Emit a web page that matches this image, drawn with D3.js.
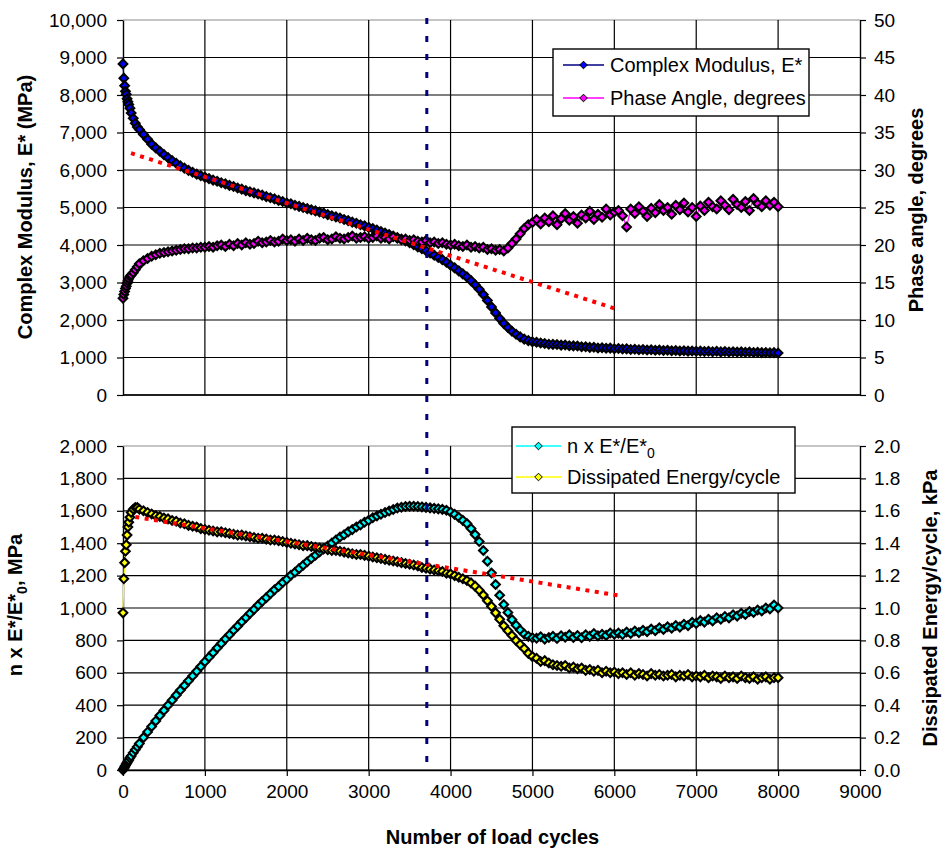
<!DOCTYPE html>
<html>
<head>
<meta charset="utf-8">
<script src="https://cdn.jsdelivr.net/npm/d3@7"></script>
<style>
  body { margin: 0; background: #fff; }
  svg { display: block; font-family: "Liberation Sans", Arial, sans-serif; }
</style>
</head>
<body>
<div id="chart"></div>
<script>
// load cycles at which every measurement was taken
const cycles = [0,10,20,30,40,50,60,70,85,100,125,150,175,200,
  250,300,350,400,450,500,550,600,650,700,750,800,850,900,950,1000,
  1050,1100,1150,1200,1250,1300,1350,1400,1450,1500,1550,1600,1650,1700,1750,1800,1850,1900,1950,2000,
  2050,2100,2150,2200,2250,2300,2350,2400,2450,2500,2550,2600,2650,2700,2750,2800,2850,2900,2950,3000,
  3050,3100,3150,3200,3250,3300,3350,3400,3450,3500,3550,3600,3650,3700,3750,3800,3850,3900,3950,4000,
  4050,4100,4150,4200,4250,4300,4350,4400,4450,4500,4550,4600,4650,4700,4750,4800,4850,4900,4950,5000,
  5050,5100,5150,5200,5250,5300,5350,5400,5450,5500,5550,5600,5650,5700,5750,5800,5850,5900,5950,6000,
  6050,6100,6150,6200,6250,6300,6350,6400,6450,6500,6550,6600,6650,6700,6750,6800,6850,6900,6950,7000,
  7050,7100,7150,7200,7250,7300,7350,7400,7450,7500,7550,7600,7650,7700,7750,7800,7850,7900,7950,8000];

// complex modulus E* (MPa)
const complexModulus = [8830,8450,8250,8100,8020,7900,7820,7750,7650,7520,7380,7250,7150,7080,
  6950,6820,6690,6590,6500,6410,6330,6250,6180,6110,6050,5990,5940,5890,5850,5810,
  5770,5730,5700,5660,5630,5590,5560,5520,5490,5450,5420,5390,5360,5330,5290,5260,5230,5190,5160,5120,
  5100,5060,5030,5000,4970,4940,4910,4880,4850,4810,4780,4750,4720,4680,4650,4610,4580,4540,4510,4470,
  4440,4400,4360,4320,4280,4240,4200,4160,4110,4060,4010,3950,3900,3850,3790,3730,3670,3610,3540,3460,
  3390,3310,3230,3150,3050,2940,2820,2680,2520,2350,2190,2040,1910,1800,1700,1620,1550,1490,1450,1420,
  1405,1385,1375,1355,1350,1345,1330,1335,1315,1310,1305,1285,1285,1270,1275,1255,1260,1245,1250,1235,
  1240,1225,1230,1215,1220,1205,1215,1200,1205,1195,1200,1185,1195,1180,1185,1175,1180,1170,1175,1165,
  1170,1160,1165,1155,1165,1150,1160,1145,1155,1145,1150,1140,1145,1135,1140,1130,1135,1125,1130,1120];

// phase angle (degrees)
const phaseAngle = [12.9,13.4,13.8,14.2,14.5,14.9,15.2,15.5,15.8,16.0,16.3,16.7,17.1,17.5,
  17.9,18.2,18.5,18.7,18.9,19.0,19.1,19.2,19.3,19.4,19.5,19.5,19.6,19.6,19.7,19.7,
  19.8,19.7,19.9,20.0,19.8,20.1,19.9,20.2,20.0,20.3,20.1,20.2,20.5,20.3,20.4,20.6,20.4,20.5,20.8,20.6,
  20.7,20.5,20.8,20.6,20.9,20.7,20.6,20.9,21.0,20.7,20.8,21.1,20.9,20.8,21.0,21.2,20.9,21.0,21.1,20.9,
  21.0,21.2,20.9,21.0,20.8,21.1,20.9,20.7,20.8,20.6,20.7,20.5,20.4,20.6,20.3,20.4,20.2,20.3,20.1,20.0,
  20.1,19.9,19.8,20.0,19.7,19.8,19.6,19.7,19.4,19.5,19.3,19.4,19.2,19.6,20.2,20.8,21.5,22.2,22.7,23.0,
  23.4,22.8,23.6,23.1,23.9,22.7,23.5,24.2,23.3,23.8,22.9,24.0,23.6,24.5,23.4,24.1,23.7,24.8,24.0,24.4,
  24.6,23.9,22.4,24.8,24.2,25.1,24.5,23.8,24.9,24.3,25.4,24.6,25.0,24.1,25.3,24.7,25.6,24.4,25.0,23.8,
  25.2,24.6,25.7,25.1,24.8,25.9,25.3,24.7,26.1,25.4,25.0,25.8,24.6,26.2,25.5,25.1,25.9,25.3,25.7,25.1];

// n x E*/E*0 (MPa)
const nModulusRatio = [0,10,19,28,37,45,54,62,75,86,106,125,144,163,
  200,235,269,303,336,368,400,431,462,492,522,551,580,609,639,668,
  696,724,753,781,809,835,863,888,915,940,966,991,1017,1041,1064,1088,1112,1133,1157,1177,
  1202,1221,1243,1264,1285,1306,1326,1346,1366,1382,1401,1420,1438,1452,1470,1484,1500,1513,1529,1541,
  1557,1568,1579,1589,1599,1608,1617,1622,1626,1628,1628,1626,1624,1621,1618,1615,1612,1609,1603,1593,
  1578,1560,1541,1521,1490,1453,1410,1355,1289,1216,1145,1079,1021,972,928,894,864,839,825,816,
  813,822,808,818,826,812,829,820,834,818,830,816,835,825,842,828,838,831,846,838,
  845,836,852,843,858,848,862,853,870,860,878,867,884,875,892,882,900,891,912,905,
  922,913,930,920,940,931,948,939,958,950,968,960,978,972,988,982,1000,994,1018,1000];

// dissipated energy per cycle (kPa)
const dissipatedEnergy = [0.97,1.18,1.28,1.35,1.39,1.45,1.50,1.53,1.56,1.59,1.61,1.62,1.62,1.61,
  1.60,1.59,1.58,1.57,1.565,1.555,1.55,1.54,1.535,1.525,1.52,1.51,1.505,1.50,1.49,1.485,
  1.48,1.475,1.47,1.47,1.465,1.46,1.455,1.45,1.45,1.445,1.44,1.435,1.43,1.43,1.425,1.42,1.42,1.415,1.41,1.405,
  1.40,1.395,1.39,1.385,1.385,1.38,1.375,1.37,1.365,1.36,1.355,1.355,1.35,1.345,1.34,1.335,1.33,1.33,1.325,1.32,
  1.315,1.31,1.305,1.30,1.295,1.29,1.285,1.28,1.275,1.27,1.265,1.26,1.25,1.245,1.24,1.235,1.23,1.225,1.215,1.21,
  1.20,1.19,1.18,1.17,1.155,1.135,1.11,1.08,1.045,1.01,0.97,0.93,0.89,0.86,0.83,0.80,0.775,0.75,0.72,0.70,
  0.69,0.67,0.675,0.66,0.65,0.645,0.64,0.645,0.63,0.635,0.625,0.63,0.615,0.62,0.61,0.615,0.60,0.61,0.60,0.605,
  0.595,0.60,0.59,0.60,0.585,0.595,0.59,0.58,0.595,0.585,0.59,0.58,0.585,0.59,0.575,0.585,0.58,0.59,0.575,0.58,
  0.575,0.585,0.57,0.58,0.575,0.565,0.58,0.57,0.575,0.565,0.58,0.57,0.565,0.575,0.56,0.57,0.575,0.56,0.57,0.57];

// linear trend lines (end points)
const trendTopCycles = [98, 6030];
const trendTopModulus = [6450, 2290];
const trendBottomCycles = [150, 6090];
const trendBottomEnergy = [1.562, 1.074];

const markerCycle = 3710;

// tick values
const xTicks = [0,1000,2000,3000,4000,5000,6000,7000,8000,9000];
const modulusTicks = [0,1000,2000,3000,4000,5000,6000,7000,8000,9000,10000];
const phaseTicks = [0,5,10,15,20,25,30,35,40,45,50];
const ratioTicks = [0,200,400,600,800,1000,1200,1400,1600,1800,2000];
const energyTicks = [0,0.2,0.4,0.6,0.8,1.0,1.2,1.4,1.6,1.8,2.0];

const W = 942, H = 849;
const left = 123, right = 860;
const top1 = 20, bot1 = 395;
const top2 = 446, bot2 = 770;

const svg = d3.select("#chart").append("svg")
  .attr("width", W).attr("height", H);

const x = d3.scaleLinear().domain([0, 9000]).range([left, right]);
const yE = d3.scaleLinear().domain([0, 10000]).range([bot1, top1]);
const yP = d3.scaleLinear().domain([0, 50]).range([bot1, top1]);
const yN = d3.scaleLinear().domain([0, 2000]).range([bot2, top2]);
const yD = d3.scaleLinear().domain([0, 2]).range([bot2, top2]);

const diamond = "M0,-4.3L4.3,0L0,4.3L-4.3,0Z";
const legendDiamond = "M0,-3.8L3.8,0L0,3.8L-3.8,0Z";

function grid(yScale, ticks, y0, y1) {
  const g = svg.append("g");
  // horizontal grid
  g.selectAll("line.h")
    .data(ticks)
    .enter().append("line")
    .attr("x1", left).attr("x2", right)
    .attr("y1", d => yScale(d)).attr("y2", d => yScale(d))
    .attr("stroke", (d, i) => i === ticks.length - 1 ? "#8c8c8c" : "#000")
    .attr("stroke-width", 1.2);
  // vertical grid
  g.selectAll("line.v")
    .data(xTicks.slice(1, -1))
    .enter().append("line")
    .attr("x1", d => x(d)).attr("x2", d => x(d))
    .attr("y1", y0).attr("y2", y1)
    .attr("stroke", "#000")
    .attr("stroke-width", 1.2);
}

grid(yE, modulusTicks, top1, bot1);
grid(yN, ratioTicks, top2, bot2);

function styleAxis(g) {
  g.attr("font-family", null).attr("font-size", null);
  g.selectAll("text").style("font-size", "19px").attr("fill", "#000");
  g.selectAll("line").attr("stroke-width", 1.2);
  g.select(".domain").attr("stroke-width", 1.4);
}

// top axes
svg.append("g")
  .attr("transform", `translate(${left},0)`)
  .call(d3.axisLeft(yE).tickValues(modulusTicks).tickFormat(d3.format(","))
    .tickSize(6).tickPadding(10).tickSizeOuter(0))
  .call(styleAxis);
svg.append("g")
  .attr("transform", `translate(${right},0)`)
  .call(d3.axisRight(yP).tickValues(phaseTicks).tickFormat(d3.format("d"))
    .tickSize(6).tickPadding(8).tickSizeOuter(0))
  .call(styleAxis);
svg.append("line")
  .attr("x1", left).attr("x2", right).attr("y1", bot1).attr("y2", bot1)
  .attr("stroke", "#000").attr("stroke-width", 1.4);

// bottom axes
svg.append("g")
  .attr("transform", `translate(${left},0)`)
  .call(d3.axisLeft(yN).tickValues(ratioTicks).tickFormat(d3.format(","))
    .tickSize(6).tickPadding(10).tickSizeOuter(0))
  .call(styleAxis);
svg.append("g")
  .attr("transform", `translate(${right},0)`)
  .call(d3.axisRight(yD).tickValues(energyTicks).tickFormat(d3.format(".1f"))
    .tickSize(6).tickPadding(8).tickSizeOuter(0))
  .call(styleAxis);
svg.append("g")
  .attr("transform", `translate(0,${bot2})`)
  .call(d3.axisBottom(x).tickValues(xTicks).tickFormat(d3.format("d"))
    .tickSize(6).tickPadding(9).tickSizeOuter(0))
  .call(styleAxis);

// series
function drawSeries(values, yScale, lineColor, fill) {
  const pts = cycles.map((c, i) => [c, values[i]]);
  svg.append("path")
    .datum(pts)
    .attr("fill", "none")
    .attr("stroke", lineColor)
    .attr("stroke-width", 1.2)
    .attr("d", d3.line().x(d => x(d[0])).y(d => yScale(d[1])));
  svg.append("g").selectAll("path")
    .data(pts)
    .enter().append("path")
    .attr("d", diamond)
    .attr("transform", d => `translate(${x(d[0])},${yScale(d[1])})`)
    .attr("fill", fill)
    .attr("stroke", "#000")
    .attr("stroke-width", 2.1);
}

function drawTrend(cs, vs, yScale) {
  svg.append("path")
    .datum(cs.map((c, i) => [c, vs[i]]))
    .attr("fill", "none")
    .attr("stroke", "#ff0000")
    .attr("stroke-width", 4)
    .attr("stroke-dasharray", "4,5.5")
    .attr("d", d3.line().x(d => x(d[0])).y(d => yScale(d[1])));
}

drawSeries(complexModulus, yE, "#000080", "#0000ff");
drawSeries(phaseAngle, yP, "#ff00ff", "#ff00ff");
drawTrend(trendTopCycles, trendTopModulus, yE);

drawSeries(nModulusRatio, yN, "#00ffff", "#00ffff");
drawSeries(dissipatedEnergy, yD, "#ffff00", "#ffff00");
drawTrend(trendBottomCycles, trendBottomEnergy, yD);

// vertical marker line
svg.append("line")
  .attr("x1", x(markerCycle)).attr("x2", x(markerCycle))
  .attr("y1", top1 - 2).attr("y2", bot2)
  .attr("stroke", "#000080")
  .attr("stroke-width", 3)
  .attr("stroke-dasharray", "6,12");

// axis titles
function vTitle(xPos, yPos, parts) {
  const t = svg.append("text")
    .attr("transform", `translate(${xPos},${yPos}) rotate(-90)`)
    .attr("text-anchor", "middle")
    .attr("font-weight", "bold")
    .attr("font-size", 20)
    .attr("fill", "#000");
  parts.forEach(p => {
    const s = t.append("tspan").text(p.text);
    if (p.sub) s.attr("font-size", 14).attr("dy", 5);
    if (p.after) s.attr("dy", -5);
  });
}

vTitle(32, 207, [{text: "Complex Modulus, E* (MPa)"}]);
vTitle(923, 210, [{text: "Phase angle, degrees"}]);
vTitle(22, 605, [{text: "n x E*/E*"}, {text: "0", sub: true}, {text: ", MPa", after: true}]);
vTitle(937, 608, [{text: "Dissipated Energy/cycle, kPa"}]);

svg.append("text")
  .attr("x", (left + right) / 2 + 1)
  .attr("y", 844)
  .attr("text-anchor", "middle")
  .attr("font-weight", "bold")
  .attr("font-size", 20)
  .text("Number of load cycles");

// legends
function legend(x0, y0, w, h, items) {
  const g = svg.append("g");
  g.append("rect")
    .attr("x", x0).attr("y", y0).attr("width", w).attr("height", h)
    .attr("fill", "#fff").attr("stroke", "#000").attr("stroke-width", 1.4);
  items.forEach(it => {
    g.append("line")
      .attr("x1", it.lx1).attr("x2", it.lx2).attr("y1", it.y).attr("y2", it.y)
      .attr("stroke", it.line).attr("stroke-width", 1.5);
    g.append("path")
      .attr("d", legendDiamond)
      .attr("transform", `translate(${(it.lx1 + it.lx2) / 2},${it.y})`)
      .attr("fill", it.fill).attr("stroke", "#000");
    const t = g.append("text")
      .attr("x", it.tx).attr("y", it.y + 7)
      .attr("font-size", 20)
      .attr("fill", "#000");
    t.append("tspan").text(it.label);
    if (it.sub) t.append("tspan").text(it.sub).attr("font-size", 14).attr("dy", 5);
  });
}

legend(553, 49, 256, 67, [
  {y: 65, lx1: 563, lx2: 604, tx: 610, line: "#000080", fill: "#0000ff", label: "Complex Modulus, E*"},
  {y: 98, lx1: 563, lx2: 604, tx: 610, line: "#ff00ff", fill: "#ff00ff", label: "Phase Angle, degrees"}
]);
legend(512, 427, 283, 66, [
  {y: 446, lx1: 516, lx2: 561, tx: 567, line: "#00ffff", fill: "#00ffff", label: "n x E*/E*", sub: "0"},
  {y: 477, lx1: 516, lx2: 561, tx: 567, line: "#ffff00", fill: "#ffff00", label: "Dissipated Energy/cycle"}
]);
</script>
</body>
</html>
